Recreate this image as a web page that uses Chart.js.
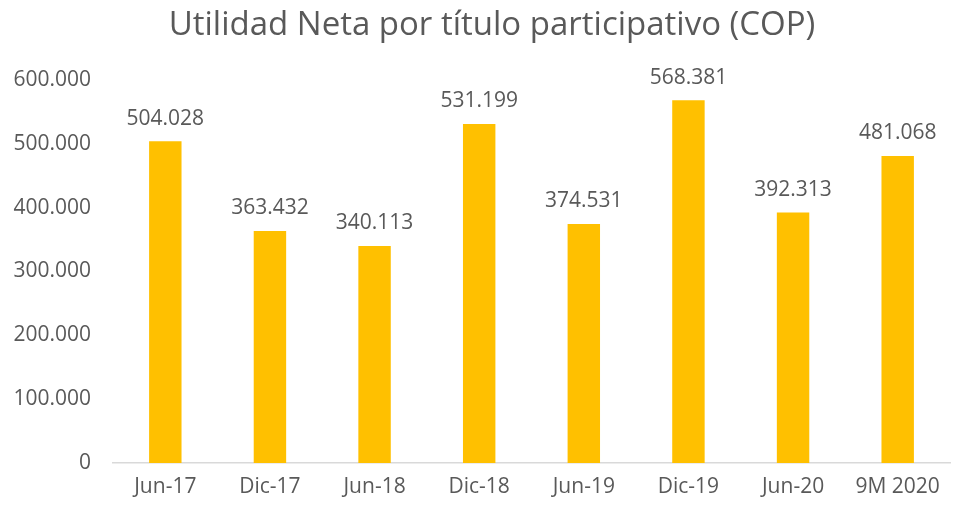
<!DOCTYPE html>
<html>
<head>
<meta charset="utf-8">
<script src="https://cdn.jsdelivr.net/npm/chart.js@4.4.1/dist/chart.umd.min.js"></script>
<style>
  html, body { margin: 0; padding: 0; background: #fff; }
  #wrap { width: 953px; height: 506px; }
</style>
</head>
<body>
<div id="wrap"><canvas id="chart" width="953" height="506"></canvas></div>
<script>
// data
const categories = ['Jun-17', 'Dic-17', 'Jun-18', 'Dic-18', 'Jun-19', 'Dic-19', 'Jun-20', '9M 2020']
const utilidad = [504028, 363432, 340113, 531199, 374531, 568381, 392313, 481068]
const yTicks = [0, 100000, 200000, 300000, 400000, 500000, 600000]
const titleText = 'Utilidad Neta por título participativo (COP)'

const FONT = "'Open Sans', sans-serif"
const TEXT = '#595959'

// dot as thousands separator, like the original
function fmt(v) {
  return String(Math.round(v)).replace(/\B(?=(\d{3})+(?!\d))/g, '.')
}

// value labels over each bar + the title (the built-in one can't be nudged right)
const barLabels = {
  id: 'barLabels',
  afterDatasetsDraw(chart) {
    const ctx = chart.ctx
    const meta = chart.getDatasetMeta(0)
    ctx.save()
    ctx.font = '21px ' + FONT
    ctx.fillStyle = TEXT
    ctx.textAlign = 'center'
    ctx.textBaseline = 'bottom'
    meta.data.forEach((bar, i) => {
      ctx.fillText(fmt(utilidad[i]), bar.x, bar.y - 12)
    })

    ctx.font = '33px ' + FONT
    ctx.textBaseline = 'middle'
    ctx.fillText(titleText, 492, 26)
    ctx.restore()
  }
}

new Chart(document.getElementById('chart'), {
  type: 'bar',
  data: {
    labels: categories,
    datasets: [{
      label: 'Utilidad Neta',
      data: utilidad,
      backgroundColor: '#FFC000',
      borderWidth: 0,
      categoryPercentage: 1,
      barPercentage: 0.31
    }]
  },
  options: {
    responsive: false,
    animation: false,
    layout: { padding: { left: 0, right: 3, top: 80, bottom: 0 } },
    plugins: {
      legend: { display: false },
      tooltip: { enabled: false },
      title: { display: false }
    },
    scales: {
      x: {
        grid: { display: false, drawTicks: false },
        border: { display: true, color: '#d9d9d9', width: 1.5 },
        ticks: { color: TEXT, font: { family: FONT, size: 21 }, padding: 11, maxRotation: 0 },
        afterFit(scale) { scale.height = 43 }
      },
      y: {
        min: 0,
        max: 600000,
        afterBuildTicks(scale) { scale.ticks = yTicks.map(v => ({ value: v })) },
        grid: { display: false, drawTicks: false },
        border: { display: false },
        ticks: { color: TEXT, font: { family: FONT, size: 21 }, padding: 22, callback: v => fmt(v) },
        afterFit(scale) { scale.width = 113 }
      }
    }
  },
  plugins: [barLabels]
})
</script>
</body>
</html>
